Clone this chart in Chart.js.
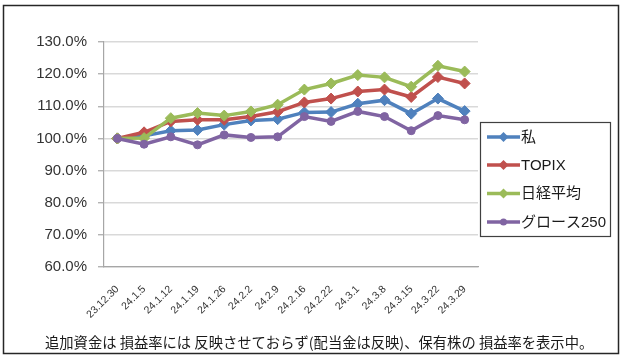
<!DOCTYPE html>
<html><head><meta charset="utf-8">
<script src="https://cdn.jsdelivr.net/npm/chart.js@4.4.1/dist/chart.umd.min.js"></script>
<style>html,body{margin:0;padding:0;background:#fff}#wrap{width:622px;height:357px}</style>
</head><body><div id="wrap"><canvas id="c" width="622" height="357"></canvas></div>
<script>
const categories = ['23.12.30','24.1.5','24.1.12','24.1.19','24.1.26','24.2.2','24.2.9','24.2.16','24.2.22','24.3.1','24.3.8','24.3.15','24.3.22','24.3.29'];
const seriesNames = ['私','TOPIX','日経平均','グロース250'];
const watashi = [100, 100.8, 102.4, 102.6, 104.3, 105.6, 106.0, 108.1, 108.2, 110.8, 111.9, 107.7, 112.4, 108.5];
const topix   = [100, 101.9, 105.3, 105.8, 105.8, 106.8, 108.3, 111.2, 112.4, 114.6, 115.2, 112.9, 119.1, 117.1];
const nikkei  = [100, 100.1, 106.3, 107.9, 107.1, 108.4, 110.5, 115.2, 117.1, 119.7, 119.0, 116.1, 122.6, 120.8];
const growth  = [100, 98.2, 100.5, 98.0, 101.1, 100.3, 100.5, 106.8, 105.3, 108.4, 106.8, 102.4, 107.1, 105.8];
const yTicks = [60, 70, 80, 90, 100, 110, 120, 130];
const footerText = '追加資金は 損益率には 反映させておらず(配当金は反映)、保有株の 損益率を表示中。';

const colors = ['#4F81BD','#C0504D','#9BBB59','#8064A2'];
const styles = ['rectRot','rectRot','rectRot','circle'];
const values = [watashi, topix, nikkei, growth];

const datasets = values.map((v, i) => ({
  label: seriesNames[i],
  data: v,
  borderColor: colors[i],
  backgroundColor: colors[i],
  borderWidth: 3.5,
  pointStyle: styles[i],
  pointRadius: styles[i] === 'circle' ? 4 : 5.5,
  pointBorderWidth: 1,
  tension: 0,
  order: 4 - i
}));

const deco = {
  id: 'deco',
  beforeDraw(chart) {
    const ctx = chart.ctx;
    ctx.save();
    ctx.fillStyle = '#fff';
    ctx.fillRect(0, 0, chart.width, chart.height);
    ctx.restore();
  },
  afterDraw(chart) {
    const ctx = chart.ctx;
    ctx.save();
    ctx.strokeStyle = '#262626';
    ctx.lineWidth = 1.5;
    ctx.strokeRect(3.5, 5.5, 615, 348);
    ctx.lineWidth = 1.2;
    ctx.strokeStyle = '#404040';
    ctx.strokeRect(480.5, 122.5, 130, 114);
    const rows = [137, 165, 193.5, 222];
    chart.data.datasets.forEach((ds, i) => {
      const y = rows[i];
      ctx.strokeStyle = ds.borderColor;
      ctx.lineWidth = 3.5;
      ctx.beginPath(); ctx.moveTo(487, y); ctx.lineTo(520, y); ctx.stroke();
      ctx.fillStyle = ds.borderColor;
      ctx.beginPath();
      if (ds.pointStyle === 'circle') {
        ctx.arc(503.5, y, 3.5, 0, Math.PI * 2);
      } else {
        ctx.moveTo(503.5, y - 5); ctx.lineTo(508.5, y); ctx.lineTo(503.5, y + 5); ctx.lineTo(498.5, y);
        ctx.closePath();
      }
      ctx.fill();
      ctx.fillStyle = '#1a1a1a';
      ctx.font = '15px "Liberation Sans", "Noto Sans CJK JP", sans-serif';
      ctx.textBaseline = 'middle';
      ctx.textAlign = 'left';
      ctx.fillText(ds.label, 521, y + 0.5);
    });
    ctx.fillStyle = '#1a1a1a';
    ctx.font = '14.3px "Noto Sans CJK JP", sans-serif';
    ctx.textBaseline = 'middle';
    ctx.textAlign = 'left';
    ctx.fillText(footerText, 45, 342.5);
    ctx.restore();
  }
};

new Chart(document.getElementById('c'), {
  type: 'line',
  data: { labels: categories, datasets },
  options: {
    responsive: false,
    animation: false,
    devicePixelRatio: 1,
    layout: { padding: { left: 0, top: 42, right: 144, bottom: 0 } },
    plugins: { legend: { display: false }, tooltip: { enabled: false }, title: { display: false } },
    scales: {
      x: {
        offset: true,
        grid: { display: false, drawTicks: false },
        border: { display: true, color: '#a6a6a6', width: 1.2 },
        ticks: {
          minRotation: 45, maxRotation: 45, padding: 16,
          color: '#333',
          font: { family: '"Liberation Sans", sans-serif', size: 10.5 }
        },
        afterFit(s) { s.height = 357 - 267; }
      },
      y: {
        min: 60, max: 130,
        afterBuildTicks(s) { s.ticks = yTicks.map(v => ({ value: v })); },
        grid: { color: '#d9d9d9', lineWidth: 1.5, tickLength: 6, tickColor: '#a6a6a6', tickWidth: 1.2 },
        border: { display: true, color: '#a6a6a6', width: 1.2 },
        ticks: {
          padding: 11,
          color: '#333',
          font: { family: '"Liberation Sans", sans-serif', size: 15 },
          callback: v => Number(v).toFixed(1) + '%'
        },
        afterFit(s) { s.width = 104; }
      }
    }
  },
  plugins: [deco]
});
</script>
</body></html>
